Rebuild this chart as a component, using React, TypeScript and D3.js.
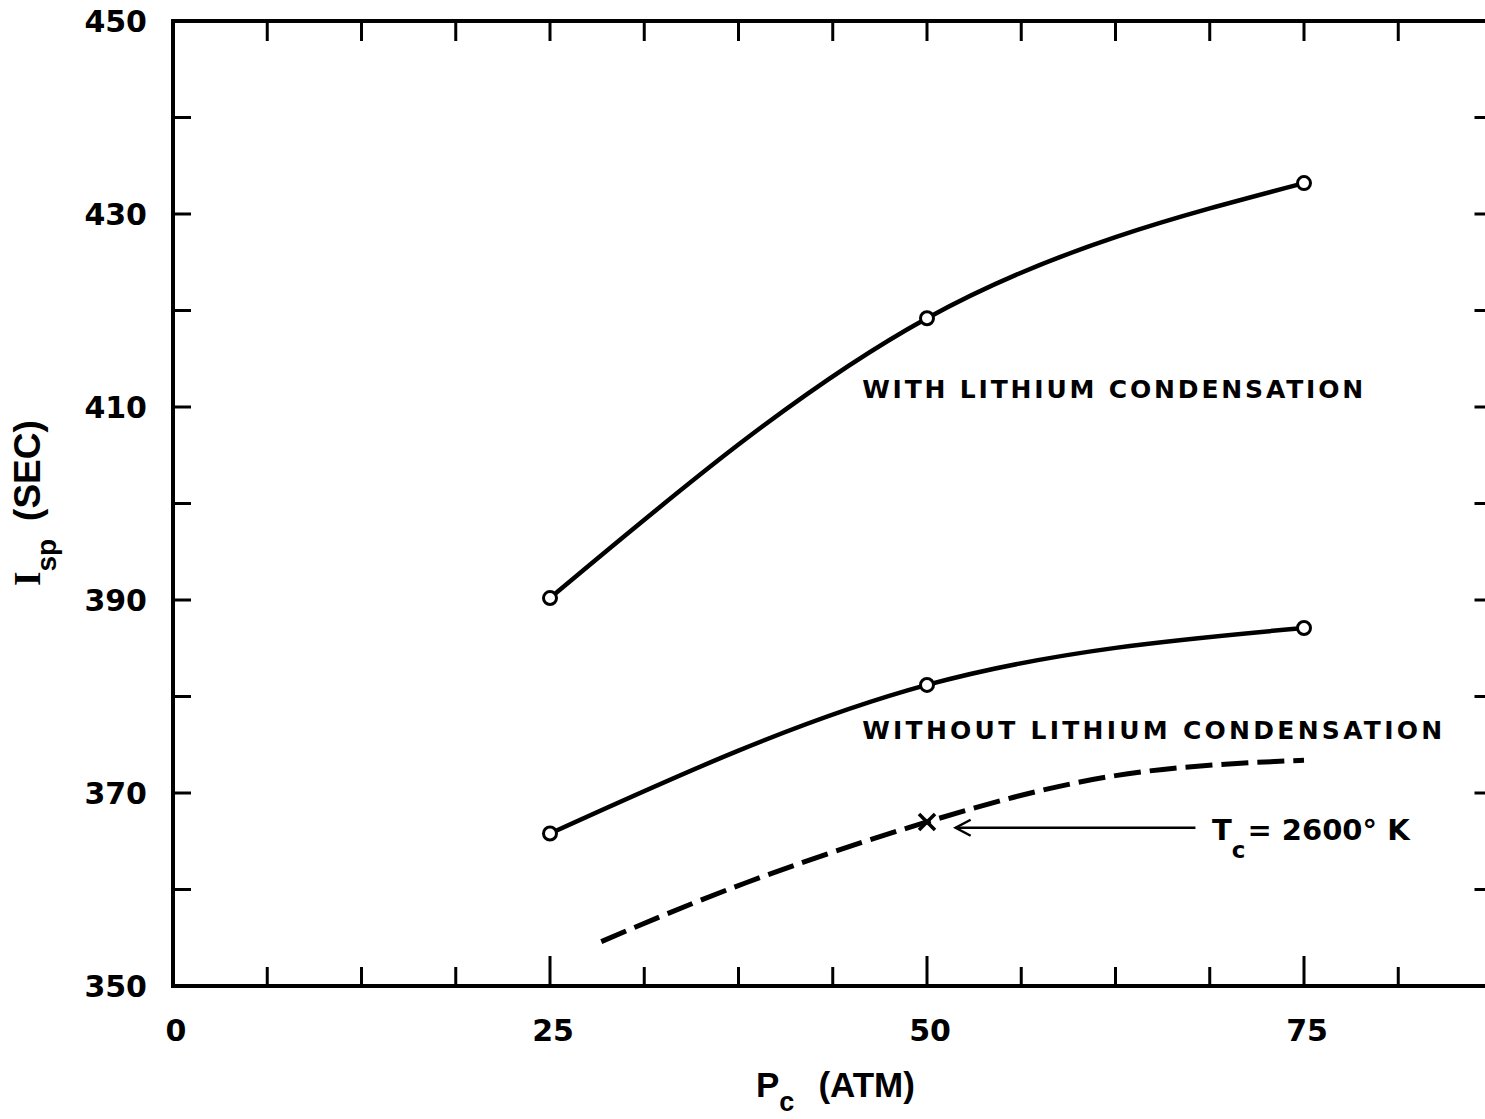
import React from "react";
import * as d3 from "d3";

// chamber pressure (ATM) at the plotted points
const pcPoints = [25, 50, 75];
// specific impulse (SEC)
const ispWithCondensation = [390.2, 419.2, 433.2];
const ispWithoutCondensation = [365.8, 381.2, 387.1];
// dashed curve, Tc = 2600 K
const pcDashed = [28.4, 38, 50, 62.5, 75];
const ispDashed = [354.6, 360.7, 367.0, 371.8, 373.4];
const xTickLabels = [0, 25, 50, 75];
const yTickLabels = [350, 370, 390, 410, 430, 450];

const W = 1485;
const H = 1119;
const FONT = "'Liberation Sans', Arial, sans-serif";
const LETTER = "'DejaVu Sans', sans-serif";

const App = () => {
  const x = d3.scaleLinear().domain([0, 87.5]).range([173, 1492.5]);
  const y = d3.scaleLinear().domain([350, 450]).range([986, 21]);

  const solid = d3
    .line<number>()
    .x((d, i) => x(pcPoints[i]))
    .y((d) => y(d))
    .curve(d3.curveNatural);

  const dashed = d3
    .line<number>()
    .x((d, i) => x(pcDashed[i]))
    .y((d) => y(d))
    .curve(d3.curveNatural);

  const xMinor = d3.range(6.25, 87.5, 6.25);
  const yMinor = d3.range(360, 450, 10);
  const [x0, x1] = x.range();
  const [y0, y1] = y.range();

  // x marker on the dashed curve
  const mx = x(50);
  const my = y(367.0);
  // arrow annotation
  const arrowY = y(366.4);
  const tipX = x(51.9);
  const tailX = x(67.8);

  return (
    <svg
      width={W}
      height={H}
      style={{ position: "absolute", left: 0, top: 0, background: "#fff" }}
      fontFamily={FONT}
      fontWeight="bold"
    >
      <rect width={W} height={H} fill="#fff" />

      {/* frame */}
      <path
        d={`M${x0},${y0} L${x0},${y1} L${x1},${y1} L${x1},${y0} Z`}
        fill="none"
        stroke="#000"
        strokeWidth={4}
      />

      {/* top ticks */}
      {xMinor.map((v) => (
        <line key={"t" + v} x1={x(v)} x2={x(v)} y1={y1} y2={y1 + 20} stroke="#000" strokeWidth={3} />
      ))}
      {/* bottom ticks */}
      {xMinor.map((v) => {
        const long = v % 25 === 0;
        return (
          <line key={"b" + v} x1={x(v)} x2={x(v)} y1={y0} y2={y0 - (long ? 30 : 19)} stroke="#000" strokeWidth={3} />
        );
      })}
      {/* left and right ticks */}
      {yMinor.map((v) => (
        <g key={"y" + v}>
          <line x1={x0} x2={x0 + 18} y1={y(v)} y2={y(v)} stroke="#000" strokeWidth={3} />
          <line x1={x1} x2={x1 - 18} y1={y(v)} y2={y(v)} stroke="#000" strokeWidth={3} />
        </g>
      ))}

      {/* tick labels */}
      <g fontFamily={LETTER} fontSize={30}>
        {yTickLabels.map((v) => (
          <text key={"yl" + v} x={147} y={y(v) + 11} textAnchor="end">
            {v}
          </text>
        ))}
        {xTickLabels.map((v) => (
          <text key={"xl" + v} x={x(v) + 3} y={1041} textAnchor="middle">
            {v}
          </text>
        ))}
      </g>

      {/* axis titles */}
      <text x={756} y={1097} fontSize={35}>
        P
        <tspan dy={14} fontSize={27}>c</tspan>
        <tspan dy={-14} dx={24}>(ATM)</tspan>
      </text>
      <text transform={`translate(40,586) rotate(-90)`} fontSize={37}>
        <tspan fontFamily="'Liberation Serif', serif">I</tspan>
        <tspan dy={16} fontSize={28}>sp</tspan>
        <tspan dy={-16} dx={18}>(SEC)</tspan>
      </text>

      {/* curves */}
      <path d={solid(ispWithCondensation) || ""} fill="none" stroke="#000" strokeWidth={4.5} />
      <path d={solid(ispWithoutCondensation) || ""} fill="none" stroke="#000" strokeWidth={4.5} />
      <path
        d={dashed(ispDashed) || ""}
        fill="none"
        stroke="#000"
        strokeWidth={5}
        strokeDasharray="27 9"
      />

      {/* open circle markers */}
      {[ispWithCondensation, ispWithoutCondensation].map((s, k) =>
        s.map((v, i) => (
          <circle key={k + "-" + i} cx={x(pcPoints[i])} cy={y(v)} r={6.5} fill="#fff" stroke="#000" strokeWidth={3} />
        ))
      )}

      {/* x marker */}
      <g stroke="#000" strokeWidth={3.5}>
        <line x1={mx - 8} y1={my - 8} x2={mx + 8} y2={my + 8} />
        <line x1={mx - 8} y1={my + 8} x2={mx + 8} y2={my - 8} />
      </g>

      {/* arrow */}
      <g stroke="#000" strokeWidth={2.5} fill="none">
        <line x1={tailX} x2={tipX} y1={arrowY} y2={arrowY} />
        <path d={`M${tipX + 15},${arrowY - 8} L${tipX},${arrowY} L${tipX + 15},${arrowY + 8}`} />
      </g>

      {/* labels */}
      <g fontFamily={LETTER}>
        <text x={x(45.7)} y={y(410.9)} fontSize={25} textLength={501} lengthAdjust="spacing">
          WITH  LITHIUM  CONDENSATION
        </text>
        <text x={x(45.7)} y={y(375.6)} fontSize={25} textLength={580} lengthAdjust="spacing">
          WITHOUT  LITHIUM  CONDENSATION
        </text>
        <text x={x(68.9)} y={y(365.1)} fontSize={29}>
          T
          <tspan dy={18} fontSize={23}>c</tspan>
          <tspan dy={-18} dx={2}>= 2600° K</tspan>
        </text>
      </g>
    </svg>
  );
};

export default App;
